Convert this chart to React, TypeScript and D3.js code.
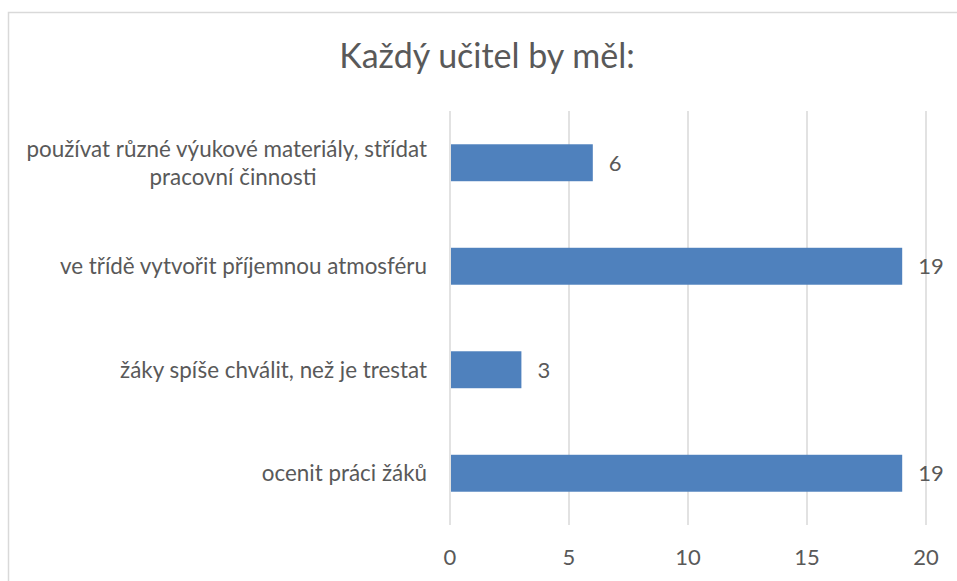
import * as d3 from "d3";

const categories = [
  "používat různé výukové materiály, střídat pracovní činnosti",
  "ve třídě vytvořit příjemnou atmosféru",
  "žáky spíše chválit, než je trestat",
  "ocenit práci žáků",
];
// wrapped lines of the category labels, as in the original
const labelLines = [
  ["používat různé výukové materiály, střídat", "pracovní činnosti"],
  ["ve třídě vytvořit příjemnou atmosféru"],
  ["žáky spíše chválit, než je trestat"],
  ["ocenit práci žáků"],
];
const values = [6, 19, 3, 19];
const xTicks = [0, 5, 10, 15, 20];
const title = "Každý učitel by měl:";

export default function App() {
  const width = 957;
  const height = 581;
  const font = "Lato, 'Open Sans', sans-serif";
  const textColor = "#595959";
  const gridColor = "#d9d9d9";

  const x = d3.scaleLinear().domain([0, 20]).range([450, 926]);
  const y = d3
    .scaleBand()
    .domain(categories)
    .range([111, 525])
    .paddingInner(0.643)
    .paddingOuter(0.3215);

  return (
    <svg
      width={width}
      height={height}
      style={{ position: "absolute", left: 0, top: 0, display: "block" }}
      fontFamily={font}
    >
      <rect x={0} y={0} width={width} height={height} fill="#fff" />
      {/* chart frame, cut at right and bottom */}
      <rect
        x={8.5}
        y={12.5}
        width={width + 20}
        height={height + 20}
        fill="none"
        stroke={gridColor}
        strokeWidth={1.5}
      />

      <text
        x={487}
        y={68}
        textAnchor="middle"
        fontSize={34}
        fill={textColor}
      >
        {title}
      </text>

      {/* gridlines */}
      <g stroke={gridColor} strokeWidth={1.5}>
        {xTicks.map((t) => (
          <line key={t} x1={x(t)} x2={x(t)} y1={111} y2={525} />
        ))}
      </g>

      {/* tick labels */}
      <g fontSize={22} fill={textColor} textAnchor="middle">
        {xTicks.map((t) => (
          <text key={t} x={x(t)} y={565}>
            {t}
          </text>
        ))}
      </g>

      {/* bars */}
      <g fill="#4f81bd">
        {categories.map((c, i) => (
          <rect
            key={c}
            x={x(0) + 1}
            y={y(c)}
            width={x(values[i]) - x(0) - 1}
            height={y.bandwidth()}
          />
        ))}
      </g>

      {/* data labels */}
      <g fontSize={22} fill={textColor}>
        {categories.map((c, i) => (
          <text
            key={c}
            x={x(values[i]) + 16}
            y={(y(c) ?? 0) + y.bandwidth() / 2}
            dy="0.36em"
          >
            {values[i]}
          </text>
        ))}
      </g>

      {/* category labels */}
      <g fontSize={22.4} fill={textColor}>
        {categories.map((c, i) => {
          const cy = (y(c) ?? 0) + y.bandwidth() / 2;
          const lines = labelLines[i];
          if (lines.length === 1) {
            return (
              <text key={c} x={427} y={cy} dy="0.36em" textAnchor="end">
                {lines[0]}
              </text>
            );
          }
          return (
            <g key={c}>
              <text x={427} y={cy - 14} dy="0.36em" textAnchor="end">
                {lines[0]}
              </text>
              <text x={233} y={cy + 14.5} dy="0.36em" textAnchor="middle">
                {lines[1]}
              </text>
            </g>
          );
        })}
      </g>
    </svg>
  );
}
